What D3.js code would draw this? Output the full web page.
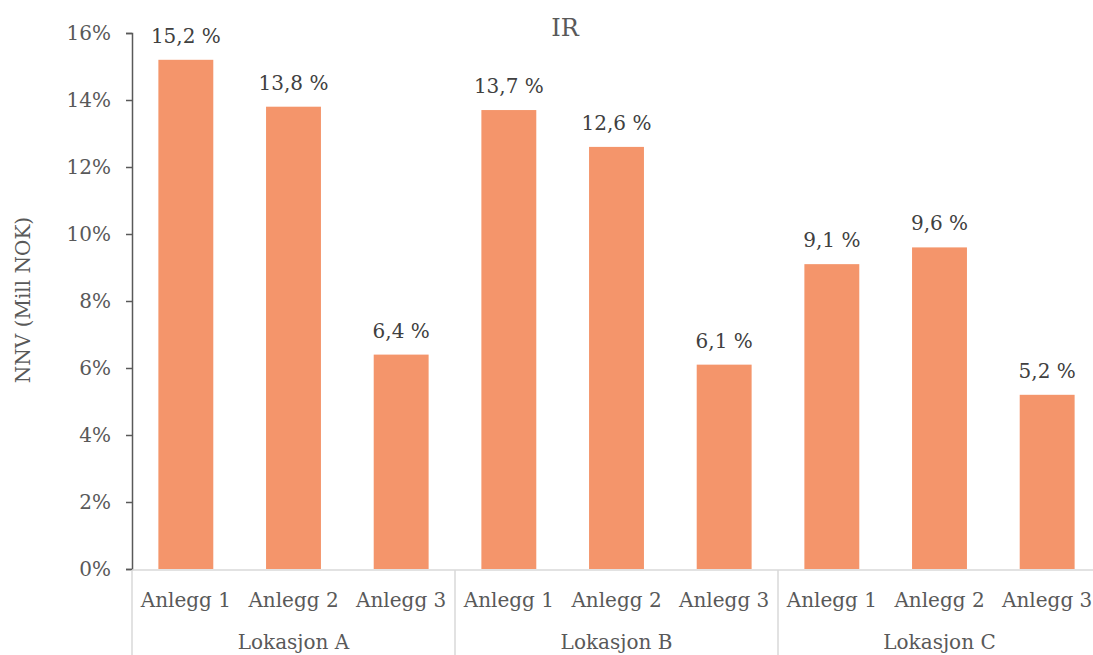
<!DOCTYPE html>
<html>
<head>
<meta charset="utf-8">
<script src="https://cdn.jsdelivr.net/npm/d3@7"></script>
<style>
  body { margin: 0; background: #fff; }
  text { font-family: Georgia, "DejaVu Serif", "Liberation Serif", serif; }
</style>
</head>
<body>
<div id="chart"></div>
<script>
// data
const groups = ['Lokasjon A', 'Lokasjon B', 'Lokasjon C'];
const plants = ['Anlegg 1', 'Anlegg 2', 'Anlegg 3'];
const values = [15.2, 13.8, 6.4, 13.7, 12.6, 6.1, 9.1, 9.6, 5.2];
const yTicks = [0, 2, 4, 6, 8, 10, 12, 14, 16];

const W = 1093, H = 655;
const FS = 20;
const svg = d3.select('#chart').append('svg')
    .attr('width', W)
    .attr('height', H);

const rows = [];
groups.forEach((g, gi) => plants.forEach((p, pi) => {
    rows.push({ key: g + '|' + p, group: g, plant: p, value: values[gi * plants.length + pi] });
}));

const x = d3.scaleBand()
    .domain(rows.map(d => d.key))
    .range([132, 1101])
    .paddingInner(0.49)
    .paddingOuter(0.245);

const y = d3.scaleLinear()
    .domain([0, 16])
    .range([569, 33]);

const fmt = v => d3.format('.1f')(v).replace('.', ',') + ' %';

// bars
svg.append('g')
    .selectAll('rect')
    .data(rows)
    .enter().append('rect')
    .attr('x', d => x(d.key))
    .attr('y', d => y(d.value))
    .attr('width', x.bandwidth())
    .attr('height', d => y(0) - y(d.value))
    .attr('fill', '#F4956B');

// value labels
svg.append('g')
    .selectAll('text')
    .data(rows)
    .enter().append('text')
    .attr('x', d => x(d.key) + x.bandwidth() / 2)
    .attr('y', d => y(d.value) - 17)
    .attr('text-anchor', 'middle')
    .attr('font-size', FS)
    .attr('fill', '#404040')
    .text(d => fmt(d.value));

// y axis
const yAxis = svg.append('g')
    .attr('transform', 'translate(132,0)')
    .call(d3.axisLeft(y).tickValues(yTicks).tickSize(6).tickFormat(d => d + '%'));
yAxis.select('.domain').attr('stroke', '#595959').attr('stroke-width', 1.5);
yAxis.selectAll('.tick line').attr('stroke', '#595959').attr('stroke-width', 1.5);
yAxis.selectAll('.tick text')
    .attr('x', -21)
    .attr('font-size', FS)
    .attr('fill', '#595959')
    .style('font-family', 'Georgia, "DejaVu Serif", "Liberation Serif", serif');

// category axis: baseline and group dividers
const step = x.step();
const x0 = x.range()[0];
svg.append('line')
    .attr('x1', x0).attr('x2', x.range()[1])
    .attr('y1', y(0) + 1).attr('y2', y(0) + 1)
    .attr('stroke', '#D9D9D9').attr('stroke-width', 1.5);

svg.append('g')
    .selectAll('line')
    .data(d3.range(groups.length))
    .enter().append('line')
    .attr('x1', i => x0 + i * step * plants.length)
    .attr('x2', i => x0 + i * step * plants.length)
    .attr('y1', y(0) + 1)
    .attr('y2', H)
    .attr('stroke', '#D9D9D9').attr('stroke-width', 1.5);

svg.append('g')
    .selectAll('text')
    .data(rows)
    .enter().append('text')
    .attr('x', d => x(d.key) + x.bandwidth() / 2)
    .attr('y', 607)
    .attr('text-anchor', 'middle')
    .attr('font-size', FS)
    .attr('fill', '#595959')
    .text(d => d.plant);

svg.append('g')
    .selectAll('text')
    .data(groups)
    .enter().append('text')
    .attr('x', (g, i) => x0 + (i + 0.5) * step * plants.length)
    .attr('y', 649)
    .attr('text-anchor', 'middle')
    .attr('font-size', FS)
    .attr('fill', '#595959')
    .text(g => g);

// title
svg.append('text')
    .attr('x', 565)
    .attr('y', 36)
    .attr('text-anchor', 'middle')
    .attr('font-size', 24)
    .attr('fill', '#595959')
    .text('IR');

// y axis title
svg.append('text')
    .attr('transform', 'translate(30,300) rotate(-90)')
    .attr('text-anchor', 'middle')
    .attr('font-size', FS)
    .attr('fill', '#595959')
    .text('NNV (Mill NOK)');
</script>
</body>
</html>
